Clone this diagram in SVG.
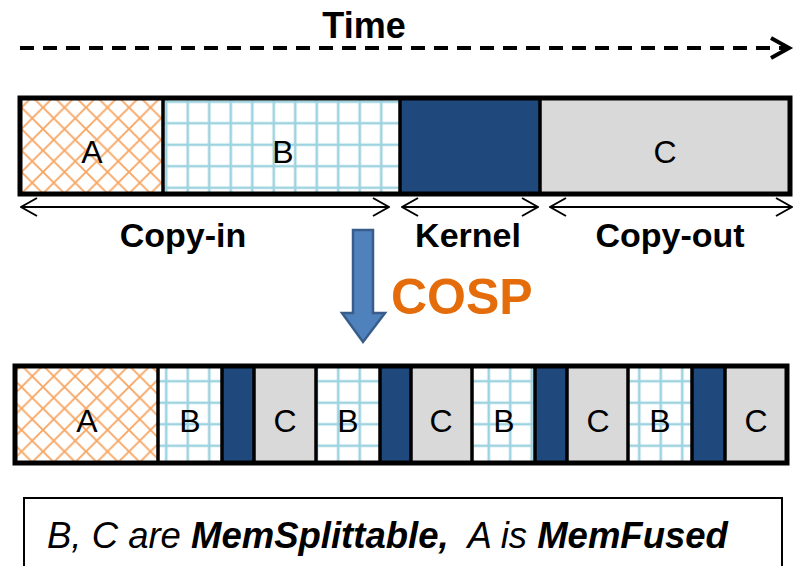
<svg xmlns="http://www.w3.org/2000/svg" width="795" height="566" viewBox="0 0 795 566">
<defs>
<style>
.lbl{font-family:"Liberation Sans",Arial,sans-serif;font-size:34px;font-weight:bold;fill:#000;text-anchor:middle}
.blk{font-family:"Liberation Sans",Arial,sans-serif;font-size:32px;fill:#000;text-anchor:middle}
.blk2{font-family:"Liberation Sans",Arial,sans-serif;font-size:32px;fill:#000;text-anchor:middle}
.div{stroke:#000;stroke-width:3.5}
.dbl{stroke:#000;stroke-width:2;fill:none}
.kern{fill:#1f497d}
.cout{fill:#d9d9d9}
.hatch{fill:url(#hatch)}
.grid{fill:url(#grid)}
</style>
<pattern id="hatch" patternUnits="userSpaceOnUse" width="21.5" height="21.5">
<rect width="21.5" height="21.5" fill="#fff"/>
<path d="M0,0 L21.5,21.5 M21.5,0 L0,21.5" stroke="#f7a460" stroke-width="1.8"/>
</pattern>
<pattern id="grid" patternUnits="userSpaceOnUse" x="5" y="5" width="21.5" height="21.5">
<rect width="21.5" height="21.5" fill="#fff"/>
<path d="M10.75,0 V21.5 M0,10.75 H21.5" stroke="#9dd3e0" stroke-width="2.6"/>
</pattern>
<marker id="chev" viewBox="0 0 18 20" refX="17" refY="10" markerWidth="18" markerHeight="20" markerUnits="userSpaceOnUse" orient="auto-start-reverse">
<path d="M1,1 L17,10 L1,19" fill="none" stroke="#000" stroke-width="2"/>
</marker>
</defs>
<rect width="795" height="566" fill="#fff"/>

<g id="time">
<text x="364" y="38" class="lbl" style="font-size:36px">Time</text>
</g>

<g id="connectors">
<line x1="20" y1="48" x2="786" y2="48" stroke="#000" stroke-width="4" stroke-dasharray="14 9"/>
<polyline points="771,38 789,48 771,58" fill="none" stroke="#000" stroke-width="4"/>
<line x1="21" y1="207" x2="389" y2="207" class="dbl" marker-start="url(#chev)" marker-end="url(#chev)"/>
<line x1="402" y1="207" x2="538" y2="207" class="dbl" marker-start="url(#chev)" marker-end="url(#chev)"/>
<line x1="550" y1="207" x2="792" y2="207" class="dbl" marker-start="url(#chev)" marker-end="url(#chev)"/>
<path d="M353,230 H373 V313 H385 L363,342 L342,313 H353 Z" fill="#4f81bd" stroke="#385d8a" stroke-width="2.5"/>
</g>

<g id="top-row">
<rect x="20" y="98" width="143" height="96" class="hatch"/>
<rect x="163" y="98" width="237" height="96" class="grid"/>
<rect x="400" y="98" width="140" height="96" class="kern"/>
<rect x="540" y="98" width="250" height="96" class="cout"/>
<line x1="163" y1="98" x2="163" y2="194" class="div"/>
<line x1="400" y1="98" x2="400" y2="194" class="div"/>
<line x1="540" y1="98" x2="540" y2="194" class="div"/>
<rect x="20" y="98" width="770" height="96" fill="none" stroke="#000" stroke-width="5"/>
<text x="92" y="163" class="blk">A</text>
<text x="283" y="163" class="blk">B</text>
<text x="665" y="163" class="blk">C</text>
</g>

<g id="phase-labels">
<text x="183" y="247" class="lbl">Copy-in</text>
<text x="468" y="247" class="lbl">Kernel</text>
<text x="670" y="247" class="lbl">Copy-out</text>
</g>

<g id="cosp">
<text x="391" y="314" style="font-family:'Liberation Sans',Arial,sans-serif;font-size:50px;font-weight:bold;fill:#e46c0a">COSP</text>
</g>

<g id="bottom-row">
<rect x="15" y="366" width="143" height="97" class="hatch"/>
<rect x="158" y="366" width="64" height="97" class="grid"/>
<rect x="222" y="366" width="32" height="97" class="kern"/>
<rect x="254" y="366" width="62" height="97" class="cout"/>
<rect x="316" y="366" width="64" height="97" class="grid"/>
<rect x="380" y="366" width="31" height="97" class="kern"/>
<rect x="411" y="366" width="61" height="97" class="cout"/>
<rect x="472" y="366" width="63" height="97" class="grid"/>
<rect x="535" y="366" width="32" height="97" class="kern"/>
<rect x="567" y="366" width="61" height="97" class="cout"/>
<rect x="628" y="366" width="64" height="97" class="grid"/>
<rect x="692" y="366" width="33" height="97" class="kern"/>
<rect x="725" y="366" width="62" height="97" class="cout"/>
<g class="div">
<line x1="158" y1="366" x2="158" y2="463"/>
<line x1="222" y1="366" x2="222" y2="463"/>
<line x1="254" y1="366" x2="254" y2="463"/>
<line x1="316" y1="366" x2="316" y2="463"/>
<line x1="380" y1="366" x2="380" y2="463"/>
<line x1="411" y1="366" x2="411" y2="463"/>
<line x1="472" y1="366" x2="472" y2="463"/>
<line x1="535" y1="366" x2="535" y2="463"/>
<line x1="567" y1="366" x2="567" y2="463"/>
<line x1="628" y1="366" x2="628" y2="463"/>
<line x1="692" y1="366" x2="692" y2="463"/>
<line x1="725" y1="366" x2="725" y2="463"/>
</g>
<rect x="15" y="366" width="772" height="97" fill="none" stroke="#000" stroke-width="5"/>
<text x="87" y="432" class="blk2">A</text>
<text x="190" y="432" class="blk2">B</text>
<text x="285" y="432" class="blk2">C</text>
<text x="348" y="432" class="blk2">B</text>
<text x="441" y="432" class="blk2">C</text>
<text x="504" y="432" class="blk2">B</text>
<text x="598" y="432" class="blk2">C</text>
<text x="660" y="432" class="blk2">B</text>
<text x="756" y="432" class="blk2">C</text>
</g>

<g id="note">
<rect x="24" y="498" width="758" height="90" fill="#fff" stroke="#000" stroke-width="2"/>
<text x="47" y="548" xml:space="preserve" style="font-family:'Liberation Sans',Arial,sans-serif;font-size:36.5px;font-style:italic;fill:#000">B, C are <tspan font-weight="bold">MemSplittable,</tspan>  A is <tspan font-weight="bold">MemFused</tspan></text>
</g>
</svg>
